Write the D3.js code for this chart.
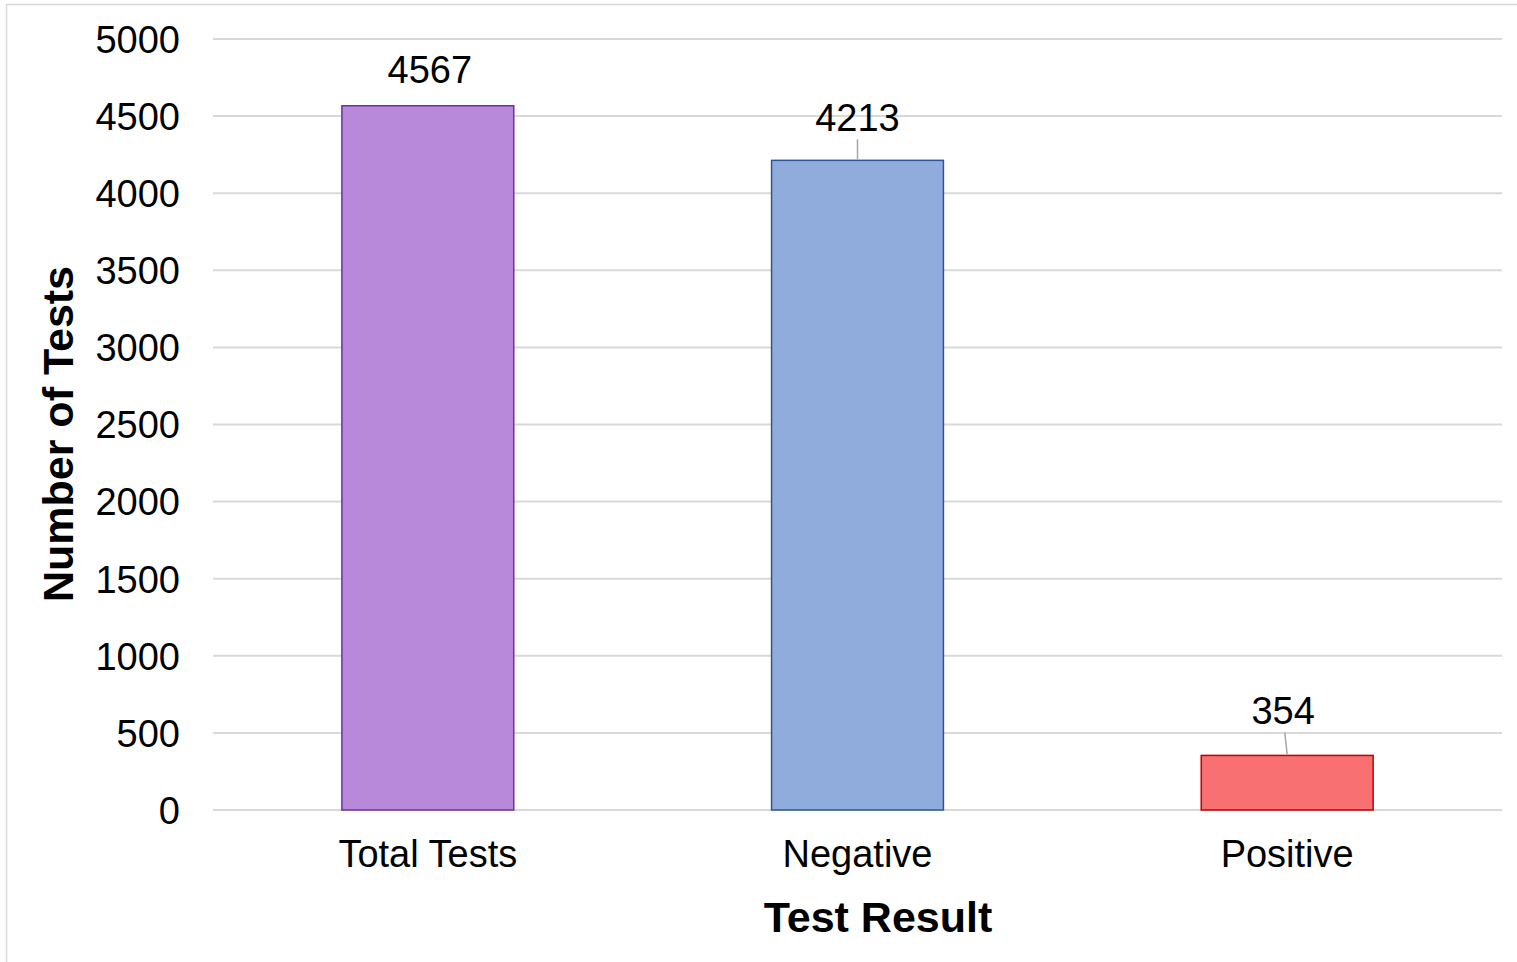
<!DOCTYPE html>
<html>
<head>
<meta charset="utf-8">
<script src="https://cdn.jsdelivr.net/npm/d3@7"></script>
<style>
  html, body { margin: 0; padding: 0; background: #fff; }
  svg { display: block; }
  text { font-family: "Liberation Sans", Arial, sans-serif; fill: #000; }
</style>
</head>
<body>
<svg id="chart" width="1517" height="962"></svg>
<script>
// ---- data ----
const categories = ["Total Tests", "Negative", "Positive"];
const values = [4567, 4213, 354];
const yTicks = [0, 500, 1000, 1500, 2000, 2500, 3000, 3500, 4000, 4500, 5000];
const xTitle = "Test Result";
const yTitle = "Number of Tests";

// ---- styles ----
const fills = ["#B889DA", "#8FACDD", "#F87071"];
const strokes = ["#7030A0", "#2F5597", "#C00000"];
// label offset above the bar top (px) and horizontal shift; leader shown when offset is large
const labelStyle = [
  { dy: 36, dx: 2, leader: false },
  { dy: 43, dx: 0, leader: true },
  { dy: 45, dx: -4, leader: true }
];

const W = 1517, H = 962;
const margin = { left: 213, right: 15, top: 39, bottom: 152 };
const svg = d3.select("#chart");
const rows = categories.map((c, i) => ({ c, v: values[i], i }));

// outer border
svg.append("rect")
  .attr("x", 6.5).attr("y", 4.5)
  .attr("width", W + 20).attr("height", H + 20)
  .attr("fill", "none").attr("stroke", "#d9d9d9").attr("stroke-width", 1.5);

const x = d3.scaleBand().domain(categories).range([margin.left, W - margin.right]).padding(0);
const y = d3.scaleLinear().domain([0, 5000]).range([H - margin.bottom, margin.top]);

// gridlines
svg.append("g").selectAll("line").data(yTicks).join("line")
  .attr("x1", margin.left).attr("x2", W - margin.right)
  .attr("y1", d => y(d)).attr("y2", d => y(d))
  .attr("stroke", "#d9d9d9").attr("stroke-width", 2);

// y axis labels
const yAxis = d3.axisLeft(y).tickValues(yTicks).tickSize(0).tickPadding(0).tickFormat(d3.format("d"));
const gy = svg.append("g").attr("transform", `translate(180,0)`).call(yAxis);
gy.select(".domain").remove();
gy.selectAll("text")
  .attr("font-family", "'Liberation Sans', Arial, sans-serif")
  .attr("font-size", 38).attr("fill", "#000").attr("dy", "0.35em");

// x axis labels
const xAxis = d3.axisBottom(x).tickSize(0).tickPadding(0);
const gx = svg.append("g").attr("transform", `translate(0,${y(0)})`).call(xAxis);
gx.select(".domain").remove();
gx.selectAll("text")
  .attr("font-family", "'Liberation Sans', Arial, sans-serif")
  .attr("font-size", 38).attr("fill", "#000").attr("dy", "0").attr("y", 57);

// bars
const barW = x.bandwidth() * 0.4;
svg.append("g").selectAll("rect").data(rows).join("rect")
  .attr("x", d => x(d.c) + (x.bandwidth() - barW) / 2)
  .attr("y", d => y(d.v))
  .attr("width", barW)
  .attr("height", d => y(0) - y(d.v))
  .attr("fill", d => fills[d.i])
  .attr("stroke", d => strokes[d.i])
  .attr("stroke-width", 1.5);

// leaders
svg.append("g").selectAll("line").data(rows.filter(d => labelStyle[d.i].leader)).join("line")
  .attr("x1", d => x(d.c) + x.bandwidth() / 2)
  .attr("y1", d => y(d.v) - 1)
  .attr("x2", d => x(d.c) + x.bandwidth() / 2 + labelStyle[d.i].dx * 0.6)
  .attr("y2", d => y(d.v) - labelStyle[d.i].dy + 22)
  .attr("stroke", "#a6a6a6").attr("stroke-width", 1.5);

// value labels
svg.append("g").selectAll("text").data(rows).join("text")
  .attr("x", d => x(d.c) + x.bandwidth() / 2 + labelStyle[d.i].dx)
  .attr("y", d => y(d.v) - labelStyle[d.i].dy)
  .attr("dy", "0.35em")
  .attr("text-anchor", "middle")
  .attr("font-size", 38)
  .text(d => d.v);

// axis titles
svg.append("text")
  .attr("x", 878).attr("y", 932)
  .attr("text-anchor", "middle")
  .attr("font-size", 43).attr("font-weight", "bold")
  .text(xTitle);

svg.append("text")
  .attr("transform", `translate(73,434) rotate(-90)`)
  .attr("text-anchor", "middle")
  .attr("font-size", 43).attr("font-weight", "bold")
  .text(yTitle);
</script>
</body>
</html>
